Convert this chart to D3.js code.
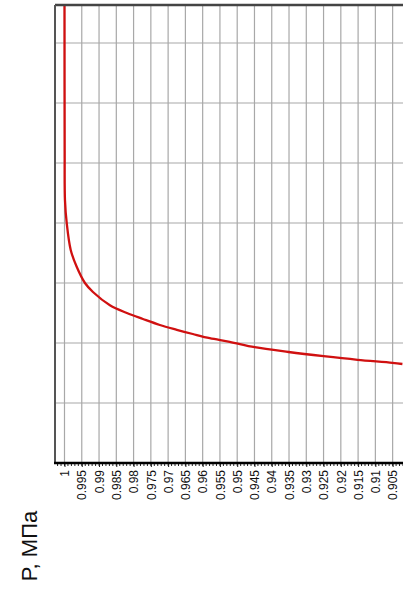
<!DOCTYPE html>
<html>
<head>
<meta charset="utf-8">
<script src="https://cdn.jsdelivr.net/npm/d3@7"></script>
<style>
  body { margin: 0; background: #fff; }
  svg { display: block; }
</style>
</head>
<body>
<svg id="chart"></svg>
<script>
// x ticks (relative volume) and the curve
var tickValues = [1, 0.995, 0.99, 0.985, 0.98, 0.975, 0.97, 0.965, 0.96, 0.955,
                  0.95, 0.945, 0.94, 0.935, 0.93, 0.925, 0.92, 0.915, 0.91, 0.905];
var tickLabels = ["1", "0.995", "0.99", "0.985", "0.98", "0.975", "0.97", "0.965", "0.96", "0.955",
                  "0.95", "0.945", "0.94", "0.935", "0.93", "0.925", "0.92", "0.915", "0.91", "0.905"];
var gridP = [1, 2, 3, 4, 5, 6, 7];
var curveV = [1.0, 0.99995, 0.99986, 0.99936, 0.9982, 0.99647, 0.99408, 0.99176, 0.98685,
              0.98194, 0.97731, 0.9724, 0.96749, 0.96286, 0.95795, 0.95217, 0.94494,
              0.93512, 0.925, 0.91517, 0.90506, 0.90217];
var curveP = [7.8, 5.2, 4.38, 4.0, 3.55, 3.27, 3.0, 2.85, 2.63,
              2.5, 2.4, 2.3, 2.22, 2.15, 2.08, 2.02, 1.93,
              1.85, 1.78, 1.72, 1.67, 1.65];

var width = 403, height = 598;
var m = { left: 55, right: 403, top: 5, bottom: 463 };

var svg = d3.select("#chart").attr("width", width).attr("height", height);

var x = d3.scaleLinear().domain([1.00275, 0.902]).range([m.left, m.right]);
var y = d3.scaleLinear().domain([0, 7.633]).range([m.bottom, m.top]);

// grid
svg.append("g").selectAll("line")
   .data(tickValues)
   .enter().append("line")
   .attr("x1", function(d){ return x(d); })
   .attr("x2", function(d){ return x(d); })
   .attr("y1", m.top).attr("y2", m.bottom)
   .attr("stroke", "#a8a8a8").attr("stroke-width", 1.2);

svg.append("g").selectAll("line")
   .data(gridP)
   .enter().append("line")
   .attr("x1", m.left).attr("x2", m.right)
   .attr("y1", function(d){ return y(d); })
   .attr("y2", function(d){ return y(d); })
   .attr("stroke", "#a8a8a8").attr("stroke-width", 1.2);

// curve
svg.append("clipPath").attr("id", "clip")
   .append("rect").attr("x", m.left).attr("y", m.top)
   .attr("width", m.right - m.left).attr("height", m.bottom - m.top);

var line = d3.line()
    .x(function(d){ return x(d[0]); })
    .y(function(d){ return y(d[1]); })
    .curve(d3.curveCatmullRom.alpha(0.5));

svg.append("path")
   .datum(d3.zip(curveV, curveP))
   .attr("clip-path", "url(#clip)")
   .attr("fill", "none")
   .attr("stroke", "#d01010")
   .attr("stroke-width", 2.3)
   .attr("d", line);

// frame
svg.append("line").attr("x1", m.left).attr("x2", m.right).attr("y1", m.top).attr("y2", m.top)
   .attr("stroke", "#444").attr("stroke-width", 2.5);
svg.append("line").attr("x1", m.left).attr("x2", m.left).attr("y1", m.top).attr("y2", m.bottom)
   .attr("stroke", "#555").attr("stroke-width", 2);

// minor ticks
var minor = d3.range(1.002, 0.9019, -0.001);
svg.append("g").selectAll("line")
   .data(minor)
   .enter().append("line")
   .attr("x1", function(d){ return x(d); })
   .attr("x2", function(d){ return x(d); })
   .attr("y1", m.bottom).attr("y2", m.bottom + 3)
   .attr("stroke", "#222").attr("stroke-width", 1);

// x axis
var xAxis = d3.axisBottom(x)
    .tickValues(tickValues)
    .tickSize(4)
    .tickFormat(function(d, i){ return tickLabels[i]; });

var gx = svg.append("g")
    .attr("transform", "translate(0," + m.bottom + ")")
    .call(xAxis);
gx.select(".domain").remove();
gx.selectAll(".tick line").attr("stroke", "#222");
gx.selectAll("text")
  .attr("transform", "rotate(-90)")
  .attr("x", -7).attr("y", 0)
  .attr("dy", "0.35em")
  .style("text-anchor", "end")
  .style("font-family", "Liberation Sans, Arial, sans-serif")
  .style("font-size", "12px")
  .attr("fill", "#111");

svg.append("line").attr("x1", m.left - 1).attr("x2", m.right).attr("y1", m.bottom).attr("y2", m.bottom)
   .attr("stroke", "#000").attr("stroke-width", 2.5);

// axis caption
svg.append("text")
   .attr("transform", "translate(37,546) rotate(-90)")
   .attr("text-anchor", "middle")
   .style("font-family", "Liberation Sans, Arial, sans-serif")
   .style("font-size", "22px")
   .attr("fill", "#111")
   .text("P, МПа");
</script>
</body>
</html>
